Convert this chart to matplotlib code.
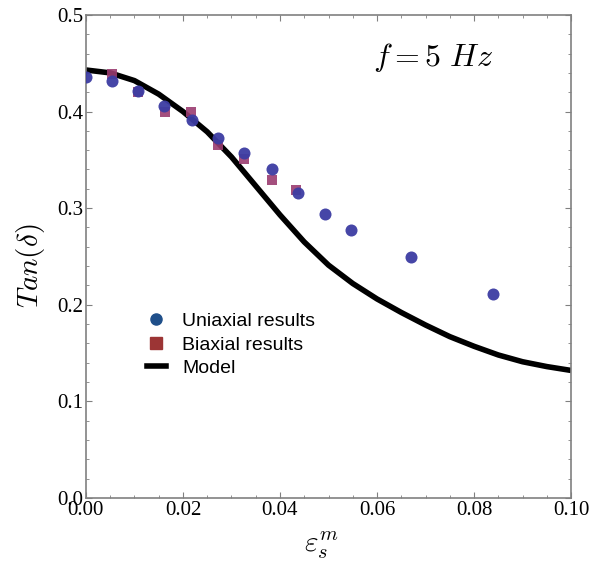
# %% imports
import numpy as np
import matplotlib.pyplot as plt
from matplotlib.lines import Line2D
from matplotlib.ticker import MultipleLocator

plt.rcParams['mathtext.fontset'] = 'cm'

# %% data
uni_x = [0.0, 0.0053, 0.0107, 0.0160, 0.0218, 0.0273, 0.0326, 0.0383, 0.0437, 0.0493, 0.0546, 0.0669, 0.0840]
uni_y = [0.436, 0.432, 0.421, 0.406, 0.391, 0.373, 0.357, 0.341, 0.316, 0.294, 0.277, 0.249, 0.211]

bi_x = [0.0053, 0.0107, 0.0162, 0.0216, 0.0273, 0.0326, 0.0383, 0.0433]
bi_y = [0.439, 0.420, 0.400, 0.399, 0.365, 0.351, 0.329, 0.319]

model_x = [0.0, 0.005, 0.01, 0.015, 0.02, 0.025, 0.03, 0.035, 0.04, 0.045, 0.05,
           0.055, 0.06, 0.065, 0.07, 0.075, 0.08, 0.085, 0.09, 0.095, 0.1]
model_y = [0.443, 0.440, 0.432, 0.418, 0.400, 0.379, 0.353, 0.323, 0.293, 0.265, 0.241,
           0.222, 0.206, 0.192, 0.179, 0.167, 0.157, 0.148, 0.141, 0.136, 0.132]

# %% plot
fig = plt.figure(figsize=(6.05, 5.63), dpi=100)
ax = fig.add_axes([0.142, 0.1155, 0.802, 0.858])

ax.plot(model_x, model_y, color='black', lw=4, solid_capstyle='butt',
        solid_joinstyle='round', zorder=2)
ax.scatter(bi_x, bi_y, marker='s', s=60, color='#9a3c70', alpha=0.9, lw=0, zorder=3)
ax.scatter(uni_x, uni_y, marker='o', s=75, color='#3c3ca2', alpha=0.95, lw=0, zorder=4)

ax.set_xlim(0, 0.1)
ax.set_ylim(0, 0.5)
ax.xaxis.set_major_locator(MultipleLocator(0.02))
ax.xaxis.set_minor_locator(MultipleLocator(0.005))
ax.yaxis.set_major_locator(MultipleLocator(0.1))
ax.yaxis.set_minor_locator(MultipleLocator(0.02))
ax.set_xticklabels(['%.2f' % v for v in ax.get_xticks()])
ax.set_yticklabels(['%.1f' % v for v in ax.get_yticks()])

for s in ax.spines.values():
    s.set_color('#808080')
    s.set_linewidth(1.2)
ax.tick_params(which='both', direction='in', top=True, right=True, color='#808080',
               labelsize=15, pad=2)
ax.tick_params(which='major', length=4)
ax.tick_params(which='minor', length=2.5)
for lab in ax.get_xticklabels() + ax.get_yticklabels():
    lab.set_family('Liberation Serif')

ax.set_xlabel(r'$\varepsilon_s^m$', fontsize=21)
ax.set_ylabel(r'$Tan(\delta)$', fontsize=21)
ax.xaxis.set_label_coords(0.485, -0.065)
ax.yaxis.set_label_coords(-0.08, 0.48)
ax.text(0.0592, 0.447, r'$f = 5\ Hz$', fontsize=23)

handles = [
    Line2D([], [], ls='none', marker='o', ms=8, color='#1f4f8a', label='Uniaxial results'),
    Line2D([], [], ls='none', marker='s', ms=8, color='#9c3535', label='Biaxial results'),
    Line2D([], [], color='black', lw=4, label='Model'),
]
ax.legend(handles=handles, loc='upper left', bbox_to_anchor=(0.09, 0.42), frameon=False,
          prop={'family': 'Liberation Sans', 'size': 14}, handlelength=0.95,
          handletextpad=0.85, labelspacing=0.3)

fig.savefig('out.png', dpi=100)
